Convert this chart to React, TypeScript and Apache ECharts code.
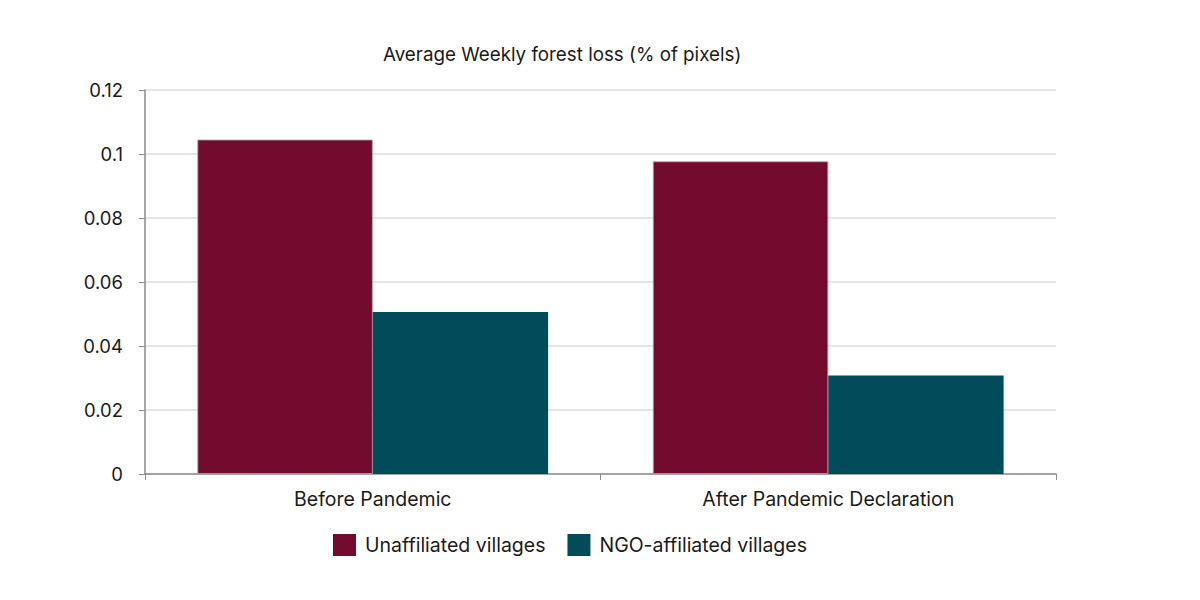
import React, { useEffect, useRef } from "react";
import * as echarts from "echarts";

const categories = ["Before Pandemic", "After Pandemic Declaration"];
const unaffiliated = [0.1045, 0.0977];
const ngoAffiliated = [0.0506, 0.0308];
const seriesNames = ["Unaffiliated villages", "NGO-affiliated villages"];
const chartTitle = "Average Weekly forest loss (% of pixels)";

export default function App() {
  const ref = useRef<HTMLDivElement>(null);
  useEffect(() => {
    if (!ref.current) return;
    const chart = echarts.init(ref.current, null, { renderer: "svg" });
    const font = "Inter, 'Noto Sans', sans-serif";
    chart.setOption({
      animation: false,
      backgroundColor: "#ffffff",
      textStyle: { fontFamily: font },
      title: {
        text: chartTitle,
        left: 378,
        top: 40,
        textStyle: { fontFamily: font, fontSize: 18.8, fontWeight: "normal", color: "#1a1a1a" },
      },
      legend: {
        left: 328,
        top: 529,
        itemWidth: 23,
        itemHeight: 22,
        itemGap: 22,
        icon: "rect",
        itemStyle: { borderWidth: 0 },
        textStyle: { fontFamily: font, fontSize: 19.5, color: "#1a1a1a", padding: [0, 0, 0, 4] },
        data: seriesNames,
      },
      grid: { left: 145, right: 144, top: 90, bottom: 126, containLabel: false },
      xAxis: {
        type: "category",
        data: categories,
        axisLine: { lineStyle: { color: "#8c8c8c", width: 1.5 } },
        axisTick: { show: true, length: 6, lineStyle: { color: "#8c8c8c" } },
        axisLabel: { fontFamily: font, fontSize: 19.5, color: "#1a1a1a", margin: 15 },
      },
      yAxis: {
        type: "value",
        min: 0,
        max: 0.12,
        interval: 0.02,
        axisLine: { show: true, lineStyle: { color: "#8c8c8c", width: 1.5 } },
        axisTick: { show: true, length: 6, lineStyle: { color: "#8c8c8c" } },
        axisLabel: { fontFamily: font, fontSize: 18.5, color: "#1a1a1a", margin: 22 },
        splitLine: { lineStyle: { color: "#dcdcdc", width: 1.5 } },
      },
      series: [
        {
          name: seriesNames[0],
          type: "bar",
          data: unaffiliated,
          barGap: "0%",
          barCategoryGap: "23%",
          itemStyle: { color: "#730b2f", borderColor: "#a8a8a8", borderWidth: 0.8 },
        },
        {
          name: seriesNames[1],
          type: "bar",
          data: ngoAffiliated,
          itemStyle: { color: "#024b5b" },
        },
      ],
    });
    return () => chart.dispose();
  }, []);
  return (
    <div
      ref={ref}
      style={{ position: "absolute", left: 0, top: 0, width: 1200, height: 600 }}
    />
  );
}
